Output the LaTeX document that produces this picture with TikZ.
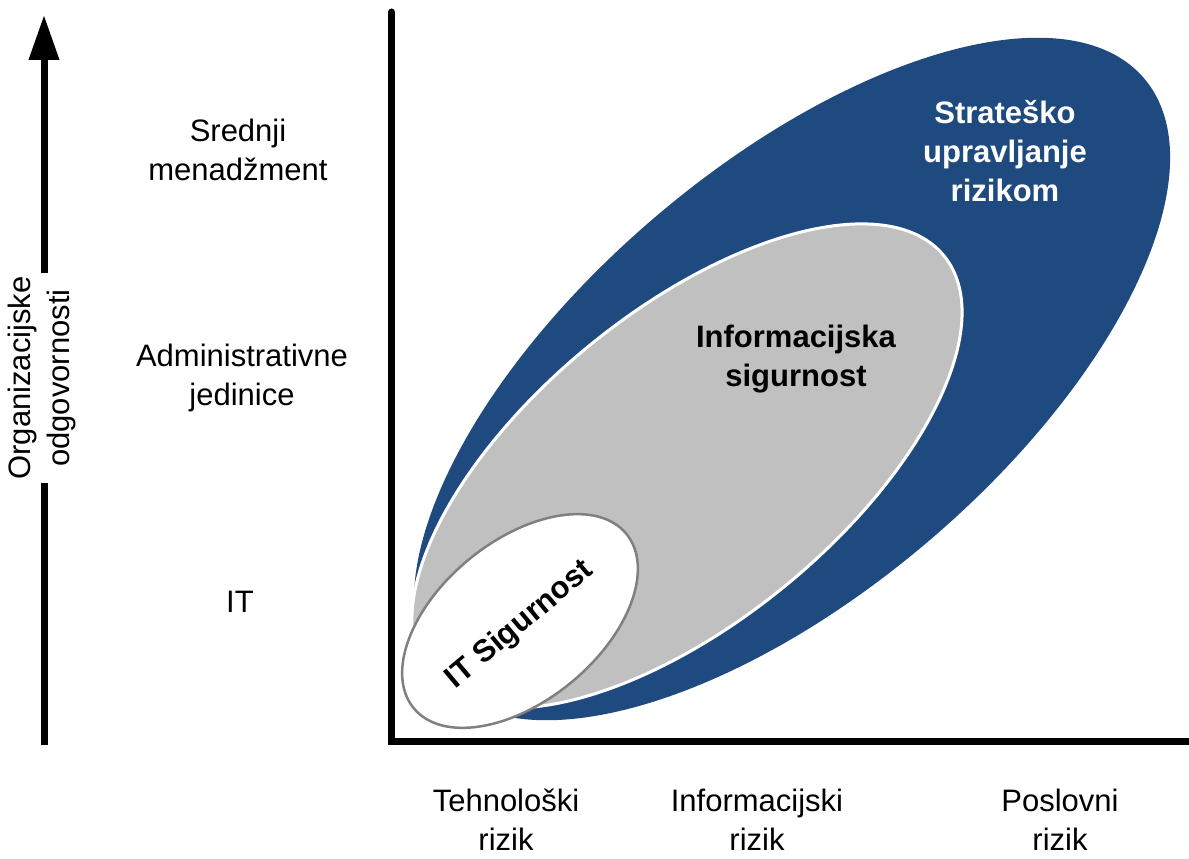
\documentclass[tikz,border=0pt]{standalone}
\usepackage{fontspec}
\setmainfont{Liberation Sans}
\usetikzlibrary{arrows.meta}
\definecolor{navy}{RGB}{31,74,128}
\definecolor{midgray}{RGB}{192,192,192}
\definecolor{rimgray}{RGB}{128,128,128}
\tikzset{
  lbl/.style={align=center,font=\fontsize{31}{39}\selectfont,inner sep=0pt},
  boldlbl/.style={lbl,font=\fontsize{31}{39}\selectfont\bfseries},
}
\begin{document}
\begin{tikzpicture}[x=1pt,y=1pt]
\useasboundingbox (0,0) rectangle (1189,859);
% ellipses
\fill[navy,rotate around={40.5:(792,480)}] (792,480) ellipse [x radius=463pt,y radius=212pt];
\filldraw[fill=midgray,draw=white,line width=3pt,rotate around={39.3:(687,393)}] (687,393) ellipse [x radius=332pt,y radius=155pt];
\filldraw[fill=white,draw=rimgray,line width=2.5pt,rotate around={39.3:(520,238)}] (520,238) ellipse [x radius=137.5pt,y radius=80pt];
% axes
\coordinate (ytop) at (391.5,847);
\coordinate (origin) at (391.5,117);
\coordinate (xend) at (1189,117);
\draw[line width=7pt,line join=miter] (ytop) -- (origin) -- (xend);
\fill (ytop) circle (3.5pt);
% vertical arrow
\coordinate (abot) at (44,114);
\coordinate (atop) at (44,844);
\draw[line width=7pt,-{Triangle[length=45pt,width=29pt]}] (abot) -- (atop);
\node[lbl,fill=white,rotate=90,inner sep=3pt] (orgl) at (42,481) {Organizacijske\\odgovornosti};
% left labels
\node[lbl] (srednji) at (238,709) {Srednji\\menadžment};
\node[lbl] (admin) at (242,481) {Administrativne\\jedinice};
\node[lbl] (itl) at (240,257) {IT};
% bottom labels
\node[lbl] (tehno) at (506,39) {Tehnološki\\rizik};
\node[lbl] (inforiz) at (757,39) {Informacijski\\rizik};
\node[lbl] (poslovni) at (1060,39) {Poslovni\\rizik};
% ellipse labels
\node[boldlbl,text=white] (strat) at (1005,708) {Strateško\\upravljanje\\rizikom};
\node[boldlbl] (infosig) at (796,500) {Informacijska\\sigurnost};
\node[boldlbl,rotate=40] (itsig) at (520,234) {IT Sigurnost};
\end{tikzpicture}
\end{document}
